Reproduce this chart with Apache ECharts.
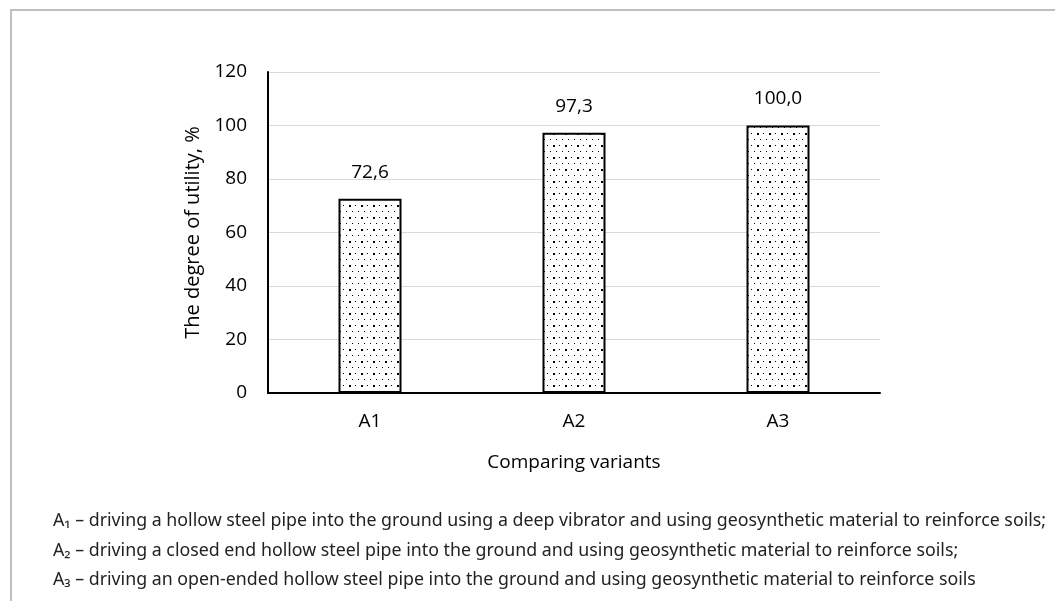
<!DOCTYPE html>
<html>
<head>
<meta charset="utf-8">
<script src="https://cdn.jsdelivr.net/npm/echarts@6/dist/echarts.min.js"></script>
<style>html,body{margin:0;padding:0;background:#fff;}#chart{width:1055px;height:601px;}</style>
</head>
<body>
<div id="chart"></div>
<script>
const categories = ['A1', 'A2', 'A3'];
const values = [72.6, 97.3, 100.0];
const yTicks = [0, 20, 40, 60, 80, 100, 120];
const yAxisTitle = 'The degree of utility, %';
const xAxisTitle = 'Comparing variants';
const notes = [
  'A\u2081 \u2013 driving a hollow steel pipe into the ground using a deep vibrator and using geosynthetic material to reinforce soils;',
  'A\u2082 \u2013 driving a closed end hollow steel pipe into the ground and using geosynthetic material to reinforce soils;',
  'A\u2083 \u2013 driving an open-ended hollow steel pipe into the ground and using geosynthetic material to reinforce soils'
];

// dotted fill pattern
const pat = document.createElement('canvas');
pat.width = 12; pat.height = 12;
const pc = pat.getContext('2d');
pc.fillStyle = '#fff'; pc.fillRect(0, 0, 12, 12);
pc.fillStyle = '#000';
pc.fillRect(1, 1, 2, 2);
pc.fillRect(7, 1, 1, 1);
pc.fillRect(4, 7, 1, 1);
pc.fillRect(10, 7, 1, 1);

const chart = echarts.init(document.getElementById('chart'), null, {renderer: 'canvas'});
const fontFam = '"Open Sans", Lato, sans-serif';
const fs = 19;
chart.setOption({
  animation: false,
  backgroundColor: '#fff',
  grid: {left: 268, right: 175, top: 72, bottom: 208},
  xAxis: {
    type: 'category',
    data: categories,
    axisLine: {lineStyle: {color: '#000', width: 2}},
    axisTick: {show: false},
    axisLabel: {color: '#000', fontSize: fs, fontFamily: fontFam, margin: 19},
    name: xAxisTitle,
    nameLocation: 'middle',
    nameGap: 60,
    nameTextStyle: {color: '#000', fontSize: fs, fontFamily: fontFam}
  },
  yAxis: {
    type: 'value',
    min: yTicks[0], max: yTicks[yTicks.length - 1], interval: 20,
    axisLine: {show: true, lineStyle: {color: '#000', width: 2}},
    axisTick: {show: false},
    splitLine: {lineStyle: {color: '#d9d9d9', width: 1}},
    axisLabel: {color: '#000', fontSize: fs, fontFamily: fontFam, margin: 21},
    name: yAxisTitle,
    nameLocation: 'middle',
    nameGap: 63,
    nameRotate: 90,
    nameTextStyle: {color: '#000', fontSize: 20, fontFamily: fontFam}
  },
  series: [{
    type: 'bar',
    data: values,
    barWidth: 63,
    itemStyle: {color: {image: pat, repeat: 'repeat'}, borderColor: '#000', borderWidth: 2},
    label: {
      show: true, position: 'top', distance: 17,
      color: '#000', fontSize: fs, fontFamily: fontFam,
      formatter: p => p.value.toFixed(1).replace('.', ',')
    }
  }],
  graphic: [
    {type: 'line', shape: {x1: 10, y1: 10, x2: 1055, y2: 10}, style: {stroke: '#bfbfbf', lineWidth: 2}},
    {type: 'line', shape: {x1: 11, y1: 10, x2: 11, y2: 601}, style: {stroke: '#bfbfbf', lineWidth: 2}},
    ...notes.map((t, i) => ({
      type: 'text', left: 53, top: 512 + i * 29.5,
      style: {text: t, fontSize: 17.8, fontFamily: '"Noto Sans", sans-serif', fill: '#222'}
    }))
  ]
});
</script>
</body>
</html>
